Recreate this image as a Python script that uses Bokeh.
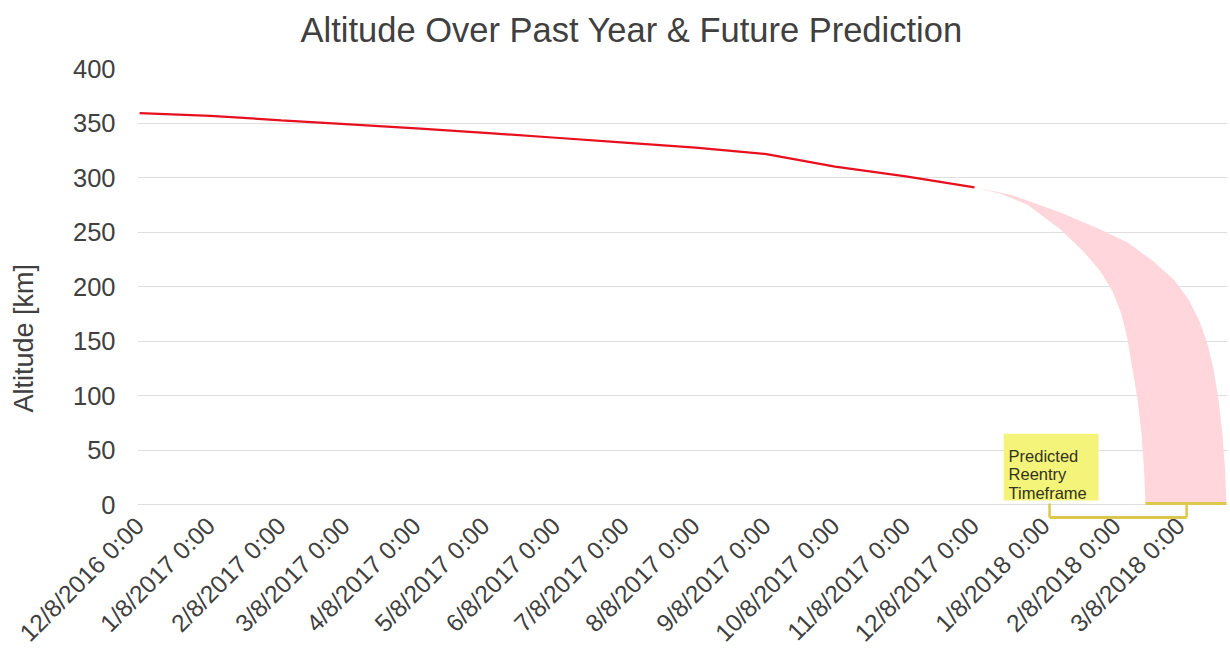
import pandas as pd
from math import pi
from bokeh.plotting import figure
from bokeh.models import FixedTicker, Range1d, Title, Arrow, ColumnDataSource
from bokeh.core.properties import value
from bokeh.embed import file_html
from bokeh.resources import INLINE

# ---------------- data ----------------
title_text = "Altitude Over Past Year & Future Prediction"
y_label = "Altitude [km]"

hist_dates = ["2016-12-08", "2017-01-08", "2017-02-08", "2017-03-08", "2017-04-08",
              "2017-05-08", "2017-06-08", "2017-07-08", "2017-08-08", "2017-09-08",
              "2017-10-08", "2017-11-08", "2017-12-08"]
hist_alt = [359, 356.5, 352.5, 349, 345, 341, 336.5, 332, 327.5, 321.5, 310, 301, 291]

upper_dates = ["2017-12-08 00:00", "2017-12-23 18:00", "2018-01-14 14:00", "2018-02-01 02:00",
               "2018-02-12 21:00", "2018-02-24 06:00", "2018-03-04 23:00", "2018-03-11 13:00",
               "2018-03-16 08:00", "2018-03-19 20:00", "2018-03-22 11:00", "2018-03-24 15:00",
               "2018-03-26 09:00", "2018-03-27 12:00", "2018-03-28 03:00"]
upper_alt = [291, 284.3, 267.8, 252.3, 240.4, 223.0, 206.6, 188.3, 168.2, 147.2, 124.3,
             96.9, 64.9, 32.9, 0]

lower_dates = ["2017-12-08 00:00", "2017-12-19 09:00", "2017-12-31 04:00", "2018-01-14 14:00",
               "2018-01-24 15:00", "2018-02-01 02:00", "2018-02-06 07:00", "2018-02-10 06:00",
               "2018-02-12 21:00", "2018-02-15 01:00", "2018-02-17 06:00", "2018-02-19 00:00",
               "2018-02-20 02:00", "2018-02-20 18:00"]
lower_alt = [291, 285.2, 275.1, 252.3, 232.2, 213.9, 195.6, 174.6, 151.7, 124.3, 96.9,
             64.9, 32.9, 0]

tick_dates = ["2016-12-08", "2017-01-08", "2017-02-08", "2017-03-08", "2017-04-08",
              "2017-05-08", "2017-06-08", "2017-07-08", "2017-08-08", "2017-09-08",
              "2017-10-08", "2017-11-08", "2017-12-08", "2018-01-08", "2018-02-08",
              "2018-03-08"]
tick_labels = ["12/8/2016 0:00", "1/8/2017 0:00", "2/8/2017 0:00", "3/8/2017 0:00",
               "4/8/2017 0:00", "5/8/2017 0:00", "6/8/2017 0:00", "7/8/2017 0:00",
               "8/8/2017 0:00", "9/8/2017 0:00", "10/8/2017 0:00", "11/8/2017 0:00",
               "12/8/2017 0:00", "1/8/2018 0:00", "2/8/2018 0:00", "3/8/2018 0:00"]
y_ticks = [0, 50, 100, 150, 200, 250, 300, 350, 400]

note_lines = ["Predicted", "Reentry", "Timeframe"]
note_line_y = [44.8, 28.3, 11.0]
note_text_x = "2017-12-22 21:00"
note_box = dict(left="2017-12-20 17:00", right="2018-01-31 05:00", bottom=3.7, top=64.9)
bracket_x = ["2018-01-09 19:00", "2018-03-10 17:00"]
bracket_y = [0.9, -11.9]
ground_y = 1.0

x_start, x_end = "2016-12-07 02:00", "2018-03-28 14:00"
y_start, y_end = -13.7, 400

# ---------------- helpers ----------------
def ms(s):
    return pd.Timestamp(s).value // 10**6

FONT = "Liberation Sans"
TXT = "#404040"

p = figure(width=1230, height=659, x_axis_type="datetime", output_backend="svg",
           toolbar_location=None, tools="", title=None,
           x_range=Range1d(ms(x_start), ms(x_end)), y_range=Range1d(y_start, y_end),
           min_border_left=137, min_border_right=3, min_border_top=68, min_border_bottom=138)
p.outline_line_color = None

# title (with a spacer between it and the plot area)
top_spacer = Title(text=" ", text_font_size="10px", standoff=7)
main_title = Title(text=title_text, align="left", offset=163, vertical_align="bottom",
                   standoff=0, text_font=FONT, text_font_size="34.5px",
                   text_font_style="normal", text_color=TXT)
p.add_layout(top_spacer, "above")
p.add_layout(main_title, "above")

# y axis
p.yaxis.ticker = FixedTicker(ticks=y_ticks)
p.yaxis.major_label_text_font = FONT
p.yaxis.major_label_text_font_size = "25.5px"
p.yaxis.major_label_text_color = TXT
p.yaxis.axis_line_color = None
p.yaxis.major_tick_line_color = None
p.yaxis.minor_tick_line_color = None
p.yaxis.major_tick_out = 0
p.yaxis.minor_tick_out = 0
p.yaxis.major_label_standoff = 22

left_spacer = Title(text=" ", text_font_size="10px", standoff=18)
ylab = Title(text=y_label, align="left", offset=107, vertical_align="bottom", standoff=0,
             text_font=FONT, text_font_size="27px", text_font_style="normal", text_color=TXT)
p.add_layout(left_spacer, "left")
p.add_layout(ylab, "left")

# x axis
tick_ms = [ms(d) for d in tick_dates]
p.xaxis.ticker = FixedTicker(ticks=tick_ms)
p.xaxis.major_label_overrides = {t: l for t, l in zip(tick_ms, tick_labels)}
p.xaxis.major_label_orientation = pi / 4
p.xaxis.major_label_text_font = FONT
p.xaxis.major_label_text_font_size = "24.5px"
p.xaxis.major_label_text_color = TXT
p.xaxis.axis_line_color = None
p.xaxis.major_tick_line_color = None
p.xaxis.minor_tick_line_color = None
p.xaxis.major_tick_out = 0
p.xaxis.minor_tick_out = 0
p.xaxis.major_label_standoff = 2

p.xgrid.grid_line_color = None
p.ygrid.grid_line_color = "#DEDEDE"
p.ygrid.grid_line_width = 1

# prediction band
band_x = [pd.Timestamp(d) for d in upper_dates] + [pd.Timestamp(d) for d in lower_dates[::-1]]
band_y = list(upper_alt) + list(lower_alt[::-1])
p.patch(band_x, band_y, fill_color="#FFD6DB", line_color=None)

# history line
src = ColumnDataSource(dict(x=pd.to_datetime(hist_dates), y=hist_alt))
p.line("x", "y", source=src, line_color="#E8101E", line_width=2.2)

# reentry window on the ground line + bracket to the note
gold = "#DCC84A"
p.add_layout(Arrow(end=None, x_start=ms(lower_dates[-1]), y_start=ground_y,
                   x_end=ms(upper_dates[-1]), y_end=ground_y, line_color=gold, line_width=3))
p.add_layout(Arrow(end=None, x_start=ms(bracket_x[0]), y_start=bracket_y[0],
                   x_end=ms(bracket_x[0]), y_end=bracket_y[1], line_color=gold, line_width=2.5))
p.add_layout(Arrow(end=None, x_start=ms(bracket_x[0]), y_start=bracket_y[1],
                   x_end=ms(bracket_x[1]), y_end=bracket_y[1], line_color=gold, line_width=3))
p.add_layout(Arrow(end=None, x_start=ms(bracket_x[1]), y_start=bracket_y[1],
                   x_end=ms(bracket_x[1]), y_end=bracket_y[0], line_color=gold, line_width=2.5))

# note box
p.quad(left=[pd.Timestamp(note_box["left"])], right=[pd.Timestamp(note_box["right"])],
       bottom=[note_box["bottom"]], top=[note_box["top"]],
       fill_color="#F4F47A", line_color=None)
p.text(x=[pd.Timestamp(note_text_x)] * len(note_lines), y=note_line_y, text=note_lines,
       text_font=value(FONT), text_font_size="16.5px", text_color="#33331A",
       text_baseline="alphabetic", text_align="left")

open("out.html", "w").write(file_html(p, INLINE))
